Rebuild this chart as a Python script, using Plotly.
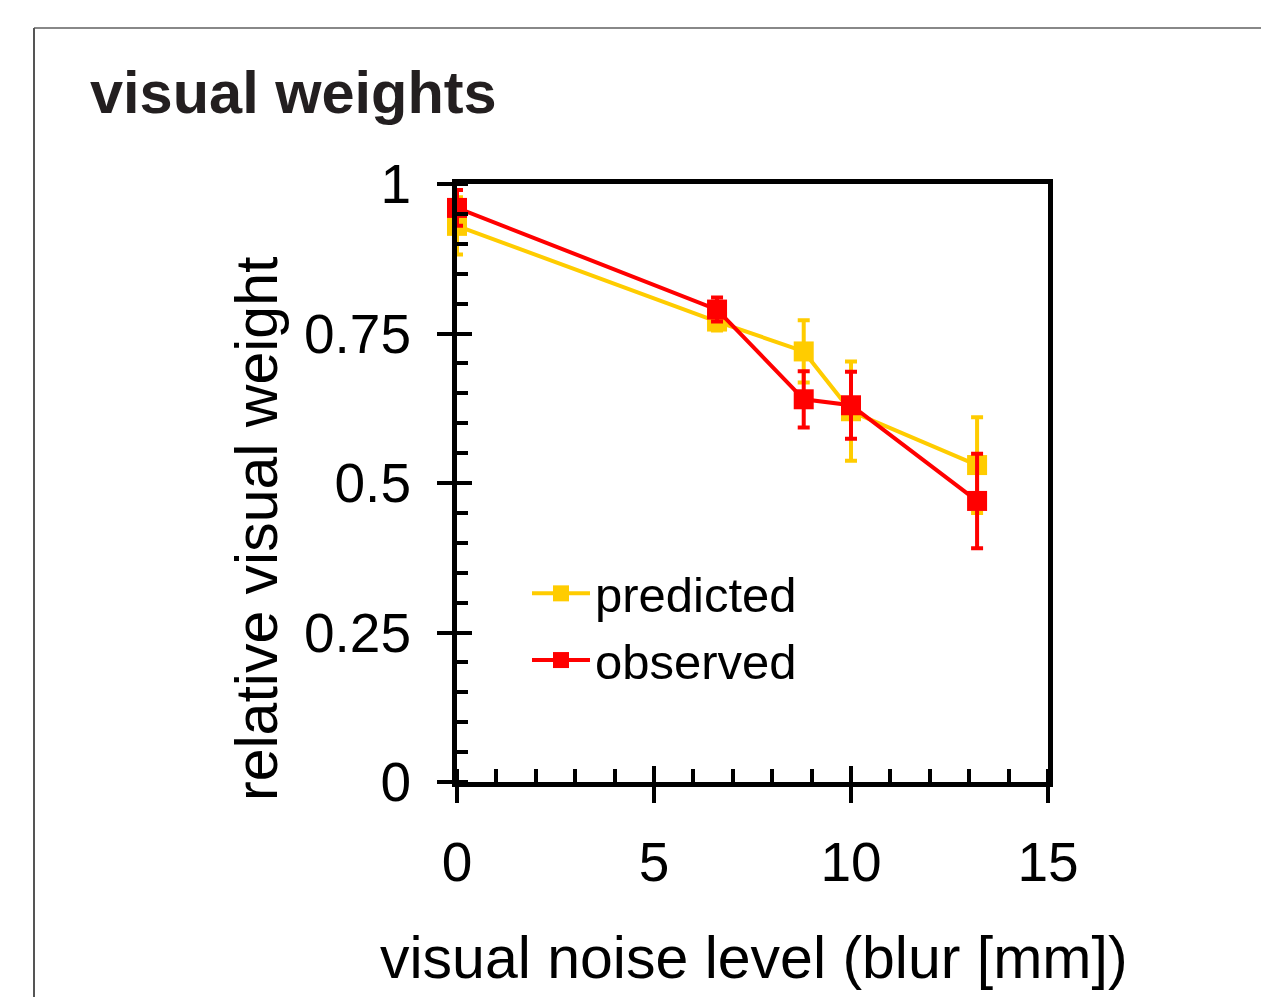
import plotly.graph_objects as go

# data
blur_mm = [0, 6.6, 8.8, 10.0, 13.2]
predicted = [0.93, 0.77, 0.72, 0.62, 0.53]
predicted_err = [0.048, 0.015, 0.052, 0.083, 0.08]
observed = [0.96, 0.79, 0.64, 0.63, 0.47]
observed_err = [0.03, 0.02, 0.047, 0.056, 0.079]

x_ticks = [0, 5, 10, 15]
x_ticklabels = ["0", "5", "10", "15"]
y_ticks = [0, 0.25, 0.5, 0.75, 1]
y_ticklabels = ["0", "0.25", "0.5", "0.75", "1"]

YELLOW = "#FFCC00"
RED = "#FF0000"
FONT = "Liberation Sans, Arial, sans-serif"

W, H = 1261, 997
L, R, T, B = 457, 1048, 184, 782  # plot area pixels


def px_x(p):
    return (p - L) / (R - L)


def px_y(p):
    return (B - p) / (B - T)


fig = go.Figure()

fig.add_trace(go.Scatter(
    x=blur_mm, y=predicted, name="predicted", mode="lines+markers",
    line=dict(color=YELLOW, width=4),
    marker=dict(symbol="square", size=20, color=YELLOW),
    error_y=dict(type="data", array=predicted_err, color=YELLOW, thickness=4, width=6),
    cliponaxis=False,
))
fig.add_trace(go.Scatter(
    x=blur_mm, y=observed, name="observed", mode="lines+markers",
    line=dict(color=RED, width=4),
    marker=dict(symbol="square", size=20, color=RED),
    error_y=dict(type="data", array=observed_err, color=RED, thickness=4, width=6),
    cliponaxis=False,
))
# empty trace to host the overlay axes carrying the inner halves of major ticks
fig.add_trace(go.Scatter(x=[], y=[], xaxis="x2", yaxis="y2", showlegend=False, hoverinfo="skip"))

axis_common = dict(showgrid=False, zeroline=False, color="black")

fig.update_layout(
    width=W, height=H,
    margin=dict(l=L, r=W - R, t=T, b=H - B, pad=0),
    paper_bgcolor="white", plot_bgcolor="white",
    font=dict(family=FONT, color="black"),
    showlegend=True,
    legend=dict(
        x=px_x(527), y=px_y(627), xanchor="left", yanchor="middle",
        font=dict(size=49, family=FONT, color="black"),
        bgcolor="rgba(0,0,0,0)", itemwidth=58, tracegroupgap=0,
    ),
    xaxis=dict(
        **axis_common, range=[0, 15], tickvals=x_ticks, ticktext=x_ticklabels,
        ticks="outside", ticklen=16, tickwidth=4, tickcolor="black",
        showline=True, linewidth=5, linecolor="black", mirror=True,
        tickfont=dict(size=55, family=FONT), ticklabelstandoff=12,
        minor=dict(dtick=1, ticks="inside", ticklen=13, tickwidth=4, tickcolor="black"),
    ),
    yaxis=dict(
        **axis_common, range=[0, 1], tickvals=y_ticks, ticktext=y_ticklabels,
        ticks="outside", ticklen=15, tickwidth=4, tickcolor="black",
        showline=True, linewidth=5, linecolor="black", mirror=True,
        tickfont=dict(size=55, family=FONT), ticklabelstandoff=15,
        minor=dict(dtick=0.05, ticks="inside", ticklen=11, tickwidth=4, tickcolor="black"),
    ),
    xaxis2=dict(
        **axis_common, range=[0, 15], overlaying="x", anchor="y2", side="bottom",
        tickvals=x_ticks, ticks="inside", ticklen=16, tickwidth=4, tickcolor="black",
        showticklabels=False, showline=False,
    ),
    yaxis2=dict(
        **axis_common, range=[0, 1], overlaying="y", anchor="x2", side="left",
        tickvals=y_ticks, ticks="inside", ticklen=15, tickwidth=4, tickcolor="black",
        showticklabels=False, showline=False,
    ),
    annotations=[
        dict(text="visual weights", xref="paper", yref="paper",
             x=px_x(88), y=px_y(92), xanchor="left", yanchor="middle", showarrow=False,
             font=dict(size=59.5, family=FONT, color="#231F20", weight="bold")),
        dict(text="visual noise level (blur [mm])", xref="paper", yref="paper",
             x=px_x(754), y=px_y(958), xanchor="center", yanchor="middle", showarrow=False,
             font=dict(size=59, family=FONT, color="black")),
        dict(text="relative visual weight", xref="paper", yref="paper", textangle=-90,
             x=px_x(257), y=px_y(529), xanchor="center", yanchor="middle", showarrow=False,
             font=dict(size=59, family=FONT, color="black")),
    ],
    shapes=[
        dict(type="line", xref="paper", yref="paper", x0=px_x(34), x1=px_x(1261),
             y0=px_y(28), y1=px_y(28), line=dict(color="#888888", width=2)),
        dict(type="line", xref="paper", yref="paper", x0=px_x(34), x1=px_x(34),
             y0=px_y(28), y1=px_y(997), line=dict(color="#555555", width=2)),
    ],
)

fig.write_html("out.html")
